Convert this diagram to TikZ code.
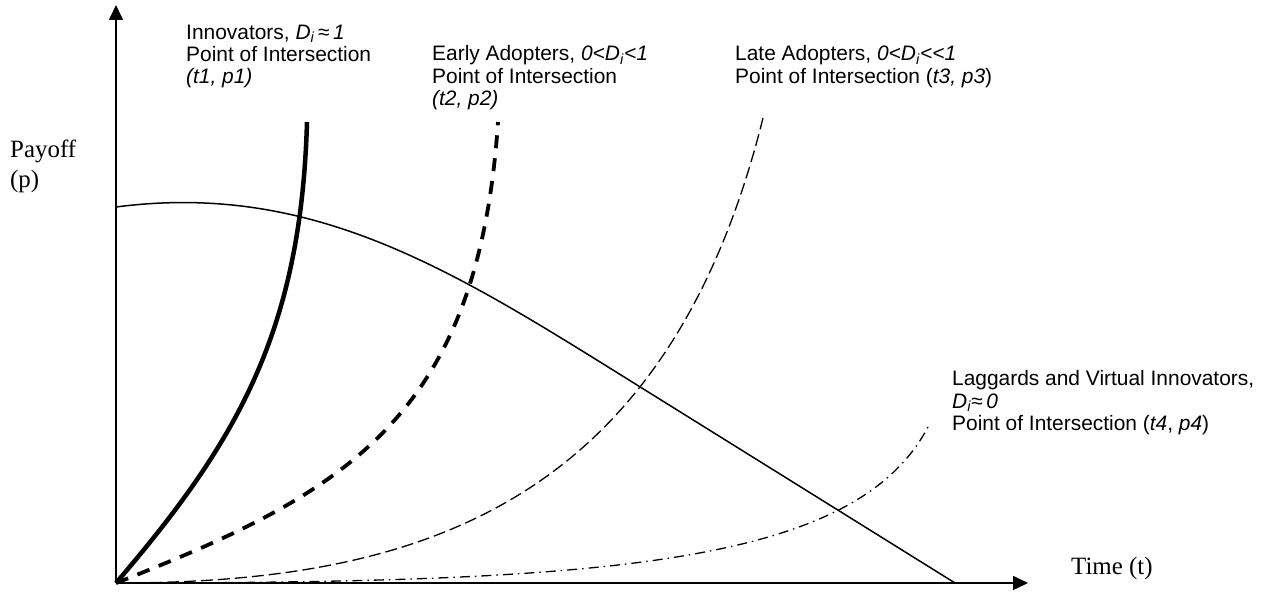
\documentclass[tikz,border=0pt]{standalone}
\usepackage{fontspec}
\setmainfont{Liberation Serif}
\setsansfont{Liberation Sans}
\usetikzlibrary{arrows.meta}

\begin{document}
\begin{tikzpicture}[x=1bp,y=1bp,
		axis/.style={line width=1.6bp,-{Triangle[length=15bp,width=14bp]}},
		payoff/.style={line width=1.5bp},
		innov/.style={line width=4.5bp},
		early/.style={line width=3.8bp,dash pattern=on 13bp off 10bp},
		late/.style={line width=1.3bp,dash pattern=on 12bp off 5bp},
		lagg/.style={line width=1.3bp,dash pattern=on 10bp off 5bp on 1.5bp off 5bp},
		lbl/.style={anchor=north west,inner sep=0pt,align=left,font=\sffamily\fontsize{21}{22.5}\selectfont},
		axlbl/.style={inner sep=0pt,align=left,font=\rmfamily\fontsize{25}{30}\selectfont}]
		\useasboundingbox (-116,-12) rectangle (1158,583);
		% axes
		\coordinate (o) at (0,0);
		\coordinate (ytop) at (0,578);
		\coordinate (xend) at (912,0);
		\draw[axis] (o) -- (ytop);
		\draw[axis] (o) -- (xend);
		\node[axlbl,anchor=north west] (pay) at (-106,443) {Payoff\\(p)};
		\node[axlbl,anchor=base west] (time) at (955,8) {Time (t)};
		% payoff curve
		\coordinate (p0) at (0,376);
		\coordinate (pm) at (521,198);
		\coordinate (pend) at (839,0);
		\draw[payoff] (p0) .. controls (200,402) and (341,310) .. (pm) -- (pend);
		% adopter curves
		\draw[innov] (o) .. controls (120,140) and (185,250) .. (191,461);
		\draw[early] (o) .. controls (230,90) and (362,165) .. (382,461);
		\draw[late] (o) .. controls (300,0) and (550,75) .. (647,465);
		\draw[lagg] (o) .. controls (500,0) and (740,20) .. (812,156);
		% labels
		\node[lbl] (innovlbl) at (70,558.5) {Innovators, \textit{D}\textsubscript{\textit{i}}\,≈\,\textit{1}\\Point of Intersection\\\textit{(t1, p1)}};
		\node[lbl] (earlylbl) at (316,537.5) {Early Adopters, \textit{0<D}\textsubscript{\textit{i}}\textit{<1}\\Point of Intersection\\\textit{(t2, p2)}};
		\node[lbl] (latelbl) at (619,537.5) {Late Adopters, \textit{0<D}\textsubscript{\textit{i}}\textit{<{}<1}\\Point of Intersection (\textit{t3, p3})};
		\node[lbl] (agglbl) at (836,212.5) {Laggards and Virtual Innovators,\\\textit{D}\textsubscript{\textit{i}}≈\,\textit{0}\\Point of Intersection (\textit{t4}, \textit{p4})};
	\end{tikzpicture}
\end{document}
